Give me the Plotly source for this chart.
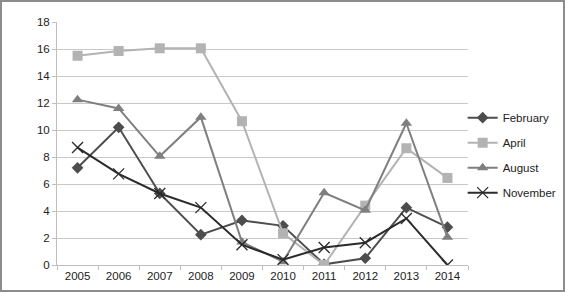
import plotly.graph_objects as go

years = ["2005", "2006", "2007", "2008", "2009", "2010", "2011", "2012", "2013", "2014"]
february = [7.2, 10.2, 5.3, 2.25, 3.3, 2.9, 0.05, 0.5, 4.25, 2.8]
april = [15.5, 15.85, 16.05, 16.05, 10.65, 2.35, 0.0, 4.4, 8.65, 6.45]
august = [12.25, 11.6, 8.05, 10.95, 1.7, 0.25, 5.35, 4.05, 10.5, 2.05]
november = [8.7, 6.75, 5.3, 4.25, 1.5, 0.4, 1.3, 1.65, 3.45, 0.0]

series = [
    ("February", february, "#4d4d4d", "diamond", 9, 2),
    ("April", april, "#b3b3b3", "square", 10, 2),
    ("August", august, "#7f7f7f", "triangle-up", 10, 2),
    ("November", november, "#2b2b2b", "x-thin-open", 11, 2),
]

fig = go.Figure()
for i, (name, vals, col, sym, sz, lw) in enumerate(series):
    marker = dict(symbol=sym, size=sz, color=col)
    if sym.endswith("open"):
        marker["line"] = dict(color=col, width=1.3)
    fig.add_trace(go.Scatter(
        x=years, y=vals, name=name, mode="lines+markers",
        line=dict(color=col, width=lw), marker=marker,
        legendgroup=name,
    ))

L, R, T, B = 57, 97, 22, 27
W, H = 565, 292
pw, ph = W - L - R, H - T - B
txt = "#222222"

fig.update_layout(
    width=W, height=H,
    margin=dict(l=L, r=R, t=T, b=B, autoexpand=False),
    paper_bgcolor="white", plot_bgcolor="white",
    font=dict(family="Liberation Sans, Arial, sans-serif", size=11, color=txt),
    showlegend=True,
    legend=dict(x=0.987, xanchor="left", y=0.452, yanchor="middle",
                traceorder="grouped", tracegroupgap=6, itemwidth=30,
                font=dict(size=11.5, color=txt), bgcolor="rgba(0,0,0,0)"),
    xaxis=dict(type="category", showgrid=False, showline=True, linecolor="#bfbfbf",
               linewidth=1, ticks="outside", tickson="boundaries", ticklen=4,
               tickcolor="#bfbfbf", range=[-0.5, 9.5],
               tickfont=dict(size=11.5, color=txt)),
    yaxis=dict(range=[0, 18], dtick=2, showgrid=True, gridcolor="#c8c8c8", gridwidth=1,
               showline=True, linecolor="#bfbfbf", ticks="outside", ticklen=4,
               tickcolor="#bfbfbf", zeroline=False,
               tickfont=dict(size=11.5, color=txt)),
    shapes=[dict(type="rect", xref="paper", yref="paper",
                 x0=(1 - L) / pw, x1=(W - 1 - L) / pw,
                 y0=-(B - 1) / ph, y1=(ph + T - 1) / ph,
                 line=dict(color="#8c8c8c", width=2), fillcolor="rgba(0,0,0,0)",
                 layer="above")],
)

fig.write_html("out.html", config={"displayModeBar": False},
               post_script="document.body.style.margin='0';")
